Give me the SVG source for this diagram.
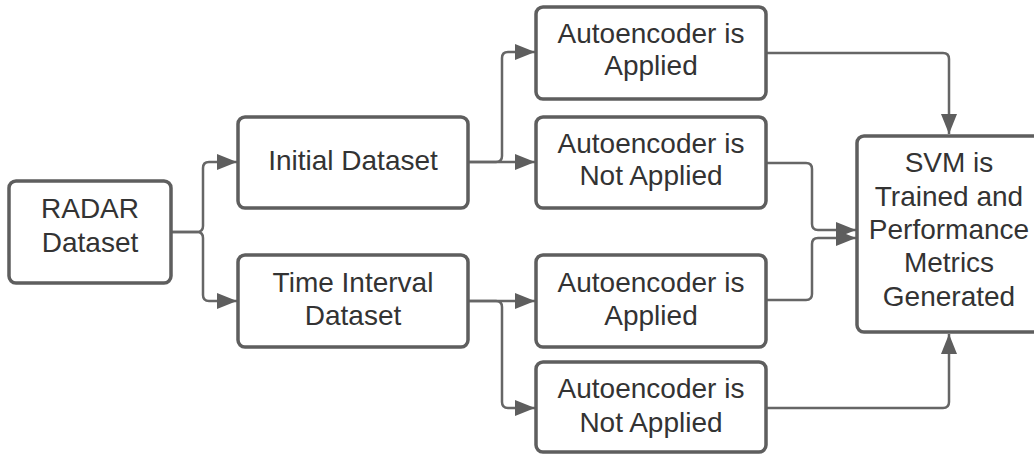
<svg xmlns="http://www.w3.org/2000/svg" width="1034" height="454" viewBox="0 0 1034 454">
<style>
.box{fill:#fff;stroke:#5e5e5e;stroke-width:3.5}
.lbl{font-family:"Liberation Sans",Arial,sans-serif;font-size:28px;fill:#333;text-anchor:middle}
.conn{fill:none;stroke:#666;stroke-width:2.5}
</style>
<defs>
<marker id="ah" markerUnits="userSpaceOnUse" markerWidth="22" markerHeight="18" viewBox="0 0 22 18" refX="21" refY="9" orient="auto">
<path d="M1,1 L21,9 L1,17 Z" fill="#5e5e5e"/>
</marker>
</defs>
<rect width="1034" height="454" fill="#fff"/>
<g id="connectors">
<path class="conn" marker-end="url(#ah)" d="M171,232 H197 Q203,232 203,226 V168 Q203,162 209,162 H237"/>
<path class="conn" marker-end="url(#ah)" d="M171,232 H197 Q203,232 203,238 V295 Q203,301 209,301 H237"/>
<path class="conn" marker-end="url(#ah)" d="M468,162 H496 Q502,162 502,156 V58 Q502,52 508,52 H535"/>
<path class="conn" marker-end="url(#ah)" d="M468,162 H535"/>
<path class="conn" marker-end="url(#ah)" d="M468,301 H535"/>
<path class="conn" marker-end="url(#ah)" d="M468,301 H496 Q502,301 502,307 V402 Q502,408 508,408 H535"/>
<path class="conn" marker-end="url(#ah)" d="M766,53 H943 Q949,53 949,59 V134"/>
<path class="conn" marker-end="url(#ah)" d="M766,163 H806 Q812,163 812,169 V224 Q812,230 818,230 H856"/>
<path class="conn" marker-end="url(#ah)" d="M766,300 H806 Q812,300 812,294 V244 Q812,238 818,238 H856"/>
<path class="conn" marker-end="url(#ah)" d="M766,408 H943 Q949,408 949,402 V334"/>
</g>
<g id="radar">
<rect class="box" x="9" y="181" width="162" height="102" rx="7"/>
<text class="lbl" x="90" y="218">RADAR</text>
<text class="lbl" x="90" y="252">Dataset</text>
</g>
<g id="initial">
<rect class="box" x="238" y="117" width="230" height="91" rx="7"/>
<text class="lbl" x="353" y="170">Initial Dataset</text>
</g>
<g id="timeinterval">
<rect class="box" x="238" y="255" width="230" height="92" rx="7"/>
<text class="lbl" x="353" y="292">Time Interval</text>
<text class="lbl" x="353" y="325">Dataset</text>
</g>
<g id="ae1">
<rect class="box" x="536" y="7" width="230" height="92" rx="7"/>
<text class="lbl" x="651" y="43">Autoencoder is</text>
<text class="lbl" x="651" y="75">Applied</text>
</g>
<g id="ae2">
<rect class="box" x="536" y="117" width="230" height="91" rx="7"/>
<text class="lbl" x="651" y="153">Autoencoder is</text>
<text class="lbl" x="651" y="185">Not Applied</text>
</g>
<g id="ae3">
<rect class="box" x="536" y="255" width="230" height="92" rx="7"/>
<text class="lbl" x="651" y="292">Autoencoder is</text>
<text class="lbl" x="651" y="325">Applied</text>
</g>
<g id="ae4">
<rect class="box" x="536" y="362" width="230" height="90" rx="7"/>
<text class="lbl" x="651" y="398">Autoencoder is</text>
<text class="lbl" x="651" y="432">Not Applied</text>
</g>
<g id="svm">
<rect class="box" x="857" y="136" width="186" height="196" rx="7"/>
<text class="lbl" x="949" y="172">SVM is</text>
<text class="lbl" x="949" y="206">Trained and</text>
<text class="lbl" x="949" y="239">Performance</text>
<text class="lbl" x="949" y="272">Metrics</text>
<text class="lbl" x="949" y="306">Generated</text>
</g>
</svg>
